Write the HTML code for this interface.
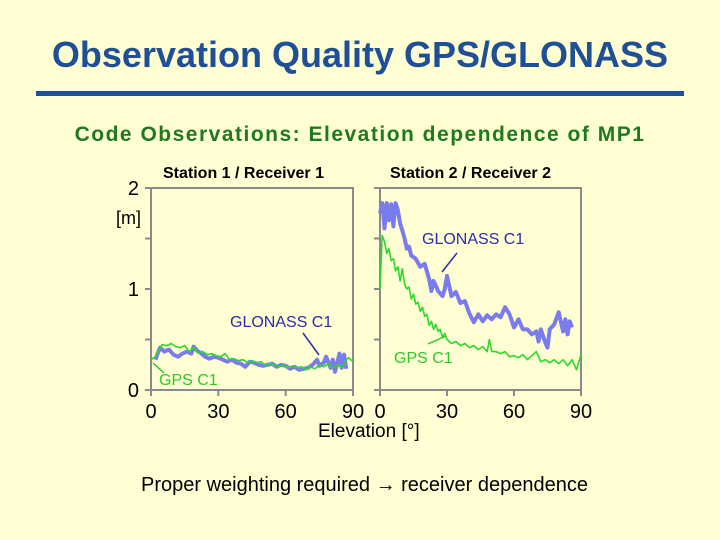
<!DOCTYPE html>
<html><head><meta charset="utf-8"><style>
body{margin:0;background:#FFFFD3;}
#root{position:relative;width:720px;height:540px;background:#FFFFD3;font-family:"Liberation Sans",sans-serif;overflow:hidden}
.t{position:absolute;white-space:nowrap}
</style></head><body>
<div id="root">
<div class="t" style="left:0;width:720px;text-align:center;top:34px;font-size:36px;font-weight:bold;color:#1F4F96;">Observation Quality GPS/GLONASS</div>
<div style="position:absolute;left:36px;top:91px;width:648px;height:5px;background:#1F4F96"></div>
<div class="t" style="left:0;width:720px;text-align:center;top:123px;font-size:21px;font-weight:bold;letter-spacing:1.5px;color:#1E7A1E;">Code Observations: Elevation dependence of MP1</div>
<div class="t" style="left:141px;top:474px;font-size:20px;color:#000;">Proper weighting required <b>&#8594;</b> receiver dependence</div>
<svg id="chart" width="720" height="540" style="position:absolute;left:0;top:0"></svg>
</div>
<script>
const xTicks=[0,30,60,90];
const yTicks=[0,1,2];
const p1GpsElev=[0,2,4,5,7,9,11,13,15,17,19,21,23,25,27,29,31,33,35,37,39,41,43,45,47,49,51,53,55,57,59,61,63,65,67,69,71,73,75,77,79,81,83,85,87,88,90];
const p1GpsVal=[0.3,0.33,0.42,0.45,0.44,0.46,0.43,0.42,0.44,0.38,0.42,0.37,0.38,0.35,0.36,0.34,0.33,0.36,0.3,0.31,0.29,0.3,0.27,0.29,0.27,0.28,0.24,0.26,0.25,0.23,0.25,0.22,0.24,0.22,0.23,0.2,0.23,0.21,0.25,0.23,0.26,0.22,0.25,0.22,0.3,0.32,0.28];
const p1GloElev=[2,3,4,6,8,10,12,14,16,18,19,21,22,24,26,28,30,32,34,36,38,40,42,44,46,48,50,52,54,56,58,60,62,64,66,68,70,72,74,75,77,78,80,81,82,84,85,86,87];
const p1GloVal=[0.3,0.36,0.42,0.38,0.4,0.35,0.33,0.36,0.38,0.36,0.43,0.38,0.37,0.33,0.31,0.33,0.32,0.3,0.28,0.3,0.27,0.26,0.23,0.28,0.27,0.25,0.24,0.25,0.26,0.23,0.25,0.24,0.21,0.23,0.2,0.21,0.22,0.25,0.3,0.24,0.27,0.33,0.22,0.3,0.18,0.36,0.22,0.35,0.21];
const p2GpsElev=[0,1,2,3,4,5,6,7,8,9,10,11,12,13,14,15,16,17,18,19,20,21,22,23,24,25,26,27,28,29,30,32,34,36,38,40,42,44,46,48,49,50,52,54,56,58,60,62,64,66,68,70,72,74,76,78,80,82,84,86,88,90];
const p2GpsVal=[1.0,1.53,1.47,1.35,1.4,1.28,1.3,1.18,1.22,1.08,1.2,1.05,1.0,1.02,0.9,0.95,0.85,0.87,0.78,0.82,0.73,0.75,0.64,0.68,0.6,0.65,0.58,0.6,0.52,0.56,0.5,0.46,0.48,0.44,0.46,0.42,0.44,0.4,0.43,0.38,0.5,0.38,0.38,0.36,0.38,0.33,0.34,0.32,0.35,0.3,0.34,0.38,0.28,0.3,0.27,0.3,0.26,0.3,0.24,0.3,0.2,0.35];
const p2GloElev=[0,1,2,3,4,5,6,7,8,9,10,11,12,13,14,16,18,20,22,23,24,26,28,29,30,32,34,36,38,40,42,44,46,48,50,52,54,56,58,60,62,64,66,68,70,71,72,74,75,76,78,80,82,83,84,85,86];
const p2GloVal=[1.75,1.85,1.6,1.85,1.68,1.84,1.62,1.85,1.78,1.65,1.58,1.5,1.4,1.42,1.33,1.3,1.22,1.25,1.1,0.98,1.08,0.98,0.93,1.0,1.13,0.93,0.97,0.86,0.88,0.76,0.67,0.75,0.68,0.74,0.7,0.75,0.72,0.82,0.75,0.62,0.7,0.6,0.6,0.55,0.58,0.48,0.6,0.47,0.42,0.6,0.65,0.77,0.58,0.7,0.55,0.68,0.62];
const NS="http://www.w3.org/2000/svg";
const svg=document.getElementById('chart');
const Y0=390,Y2=188;
function ys(v){return Y0+(Y2-Y0)*v/2;}
function mk(t,a){const e=document.createElementNS(NS,t);for(const k in a)e.setAttribute(k,a[k]);svg.appendChild(e);return e;}
function panel(xl,xr,showLabels,series,idx){
  const xs=v=>xl+(xr-xl)*v/90;
  const fr=mk('path',{d:`M${xl},${Y2}H${xr}V${Y0}H${xl}Z`,fill:'none',stroke:'#8A8A8A','stroke-width':2});
  
  
  for(let v=0;v<=2;v+=0.5){
    const tk=mk('line',{x1:xl-6,x2:xl,y1:ys(v),y2:ys(v),stroke:'#8A8A8A','stroke-width':2});
    
    
  }
  xTicks.forEach(v=>{
    const tk=mk('line',{x1:xs(v),x2:xs(v),y1:Y0,y2:Y0+6,stroke:'#8A8A8A','stroke-width':2});
    
    
    const tl=mk('text',{x:xs(v),y:Y0+28,'text-anchor':'middle','font-size':20,'font-family':'Liberation Sans, sans-serif'});
    tl.textContent=v;
    
    
  });
  if(showLabels){
    yTicks.forEach(v=>{
      const tl=mk('text',{x:xl-12,y:ys(v)+7,'text-anchor':'end','font-size':20,'font-family':'Liberation Sans, sans-serif'});
      tl.textContent=v;
      
      
    });
  }
  series.forEach(s=>{
    const d=s.e.map((e,i)=>(i?'L':'M')+xs(e).toFixed(1)+','+ys(s.v[i]).toFixed(1)).join('');
    const p=mk('path',{d:d,fill:'none',stroke:s.c,'stroke-width':s.w,'stroke-linejoin':'round'});
    
    
  });
}
panel(151,353,true,[
 {e:p1GloElev,v:p1GloVal,c:'#7B7BF0',w:4,n:'s1-glonass-line'},
 {e:p1GpsElev,v:p1GpsVal,c:'#2BD82B',w:1.6,n:'s1-gps-line'}],1);
panel(380,581,false,[
 {e:p2GloElev,v:p2GloVal,c:'#7B7BF0',w:4,n:'s2-glonass-line'},
 {e:p2GpsElev,v:p2GpsVal,c:'#2BD82B',w:1.6,n:'s2-gps-line'}],2);
function txt(x,y,s,sz,col,name,w){const t=mk('text',{x:x,y:y,'font-size':sz,fill:col,'font-family':'Liberation Sans, sans-serif','font-weight':w||'normal'});t.textContent=s;return t;}
function ln(x1,y1,x2,y2,c,name){const l=mk('line',{x1,y1,x2,y2,stroke:c,'stroke-width':1.5});}
txt(163,178,'Station 1 / Receiver 1',16,'#000','panel1-title','bold');
txt(390,178,'Station 2 / Receiver 2',16,'#000','panel2-title','bold');
txt(116,224,'[m]',18,'#000','y-axis-unit');
txt(318,437,'Elevation [°]',19,'#000','x-axis-title');
txt(230,327,'GLONASS C1',16,'#2B2BB0','s1-glonass-label');
ln(303,333,319,355,'#2B2BB0','s1-glonass-leader');
txt(159,385,'GPS C1',16,'#2BC82B','s1-gps-label');
ln(153,363,164,373,'#2BC82B','s1-gps-leader');
txt(422,244,'GLONASS C1',16,'#2B2BB0','s2-glonass-label');
ln(457,253,442,272,'#2B2BB0','s2-glonass-leader');
txt(394,363,'GPS C1',16,'#2BC82B','s2-gps-label');
ln(428,344,446,336,'#2BC82B','s2-gps-leader');
</script>
</body></html>
